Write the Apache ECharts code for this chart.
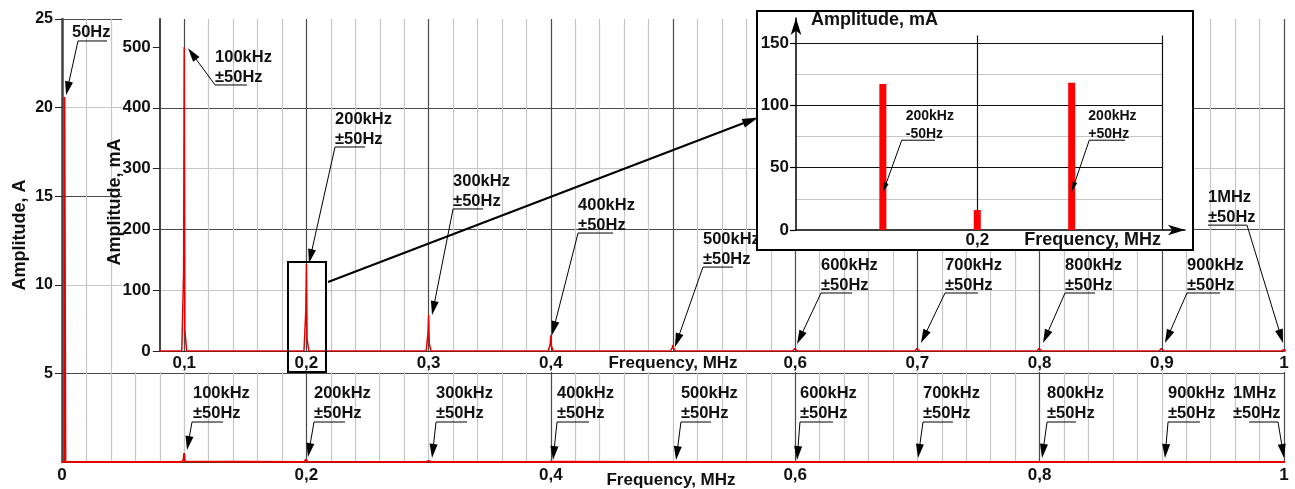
<!DOCTYPE html>
<html><head><meta charset="utf-8">
<script src="https://cdn.jsdelivr.net/npm/echarts@6/dist/echarts.min.js"></script>
<style>html,body{margin:0;padding:0;background:#fff}#c{width:1295px;height:489px}</style>
</head><body><div id="c"></div>
<script>
// ---------------- DATA ----------------
const harmonicsMHz     = [0.1, 0.2, 0.3, 0.4, 0.5, 0.6, 0.7, 0.8, 0.9, 1.0];
const harmonicPeak_mA  = [500, 143, 59, 26, 10, 5, 5, 5, 5, 2];
const harmonicSide_mA  = [130, 67, 30, 12, 6, 4, 4, 4, 4, 1];
const harmonicBase_mA  = [35, 20, 12, 8, 4, 3, 3, 3, 3, 1];
const mains50HzAmp_A   = 20.6;
const insetOffsetHz    = [-50, 0, 50];
const insetAmp_mA      = [117, 16, 118];

const outerXTickLabels = ['0', '0,2', '0,4', '0,6', '0,8', '1'];
const outerYTickLabels = ['5', '10', '15', '20', '25'];
const innerXTickLabels = ['0,1', '0,2', '0,3', '0,4', '{t|Frequency, MHz}', '0,6', '0,7', '0,8', '0,9', '1'];
const innerYTickLabels = ['0', '100', '200', '300', '400', '500'];
const insetYTickValues = [0, 50, 100, 150];
const insetXTickLabel  = '0,2';

// annotation anchors (data units of each panel)
const outerNotes = [
  {lines:['50Hz'], tx:0.0082, x0:0.0131, x1:0.0368, y:23.76, tip:[0.0033,20.7], from:'left'},
  {lines:['100kHz','±50Hz'], tx:0.1072, x0:0.1064, x1:0.1318, y:2.257, tip:[0.1023,0.677], from:'left'},
  {lines:['200kHz','±50Hz'], x0:0.2062, x1:0.2316, y:2.257, tip:[0.2013,0.28], from:'left'},
  {lines:['300kHz','±50Hz'], x0:0.3061, x1:0.3314, y:2.257, tip:[0.3028,0.23], from:'left'},
  {lines:['400kHz','±50Hz'], x0:0.4051, x1:0.4313, y:2.257, tip:[0.4018,0.11], from:'left'},
  {lines:['500kHz','±50Hz'], x0:0.5065, x1:0.5311, y:2.257, tip:[0.5025,0.11], from:'left'},
  {lines:['600kHz','±50Hz'], x0:0.6039, x1:0.6309, y:2.257, tip:[0.6015,0.11], from:'left'},
  {lines:['700kHz','±50Hz'], x0:0.7046, x1:0.7291, y:2.257, tip:[0.7005,0.23], from:'left'},
  {lines:['800kHz','±50Hz'], x0:0.8061, x1:0.8298, y:2.257, tip:[0.8020,0.23], from:'left'},
  {lines:['900kHz','±50Hz'], x0:0.9051, x1:0.9313, y:2.257, tip:[0.9026,0.23], from:'left'},
  {lines:['1MHz','±50Hz'], tx:0.9583, x0:0.9714, x1:0.9951, y:2.257, tip:[1.0,0.23], from:'right'}
];
const innerNotes = [
  {lines:['100kHz','±50Hz'], x0:0.1252, x1:0.1514, y:437.5, tip:[0.1031,498], from:'left'},
  {lines:['200kHz','±50Hz'], x0:0.2234, x1:0.2480, y:335.5, tip:[0.2021,144.7], from:'left'},
  {lines:['300kHz','±50Hz'], x0:0.3200, x1:0.3445, y:233.6, tip:[0.3028,59.2], from:'left'},
  {lines:['400kHz','±50Hz'], x0:0.4223, x1:0.4509, y:194, tip:[0.4010,26.3], from:'left'},
  {lines:['500kHz','±50Hz'], x0:0.5245, x1:0.5491, y:138, tip:[0.5016,6.6], from:'left'},
  {lines:['600kHz','±50Hz'], x0:0.6211, x1:0.6465, y:95.4, tip:[0.6015,11.5], from:'left'},
  {lines:['700kHz','±50Hz'], x0:0.7226, x1:0.7496, y:95.4, tip:[0.7029,13], from:'left'},
  {lines:['800kHz','±50Hz'], x0:0.8208, x1:0.8453, y:95.4, tip:[0.8028,13], from:'left'},
  {lines:['900kHz','±50Hz'], x0:0.9206, x1:0.9476, y:95.4, tip:[0.9026,13], from:'left'},
  {lines:['1MHz','±50Hz'], x0:0.9378, x1:0.9697, y:207, tip:[0.9992,13], from:'right'}
];
const insetNotes = [
  {lines:['200kHz','-50Hz'], tx:-37.9, x0:-40, x1:-22.4, y:72, tip:[-50,30], from:'left'},
  {lines:['200kHz','+50Hz'], tx:58.8, x0:59.3, x1:78.3, y:72, tip:[50,30.7], from:'left'}
];

// ---------------- CHART ----------------
const chart = echarts.init(document.getElementById('c'), null, {renderer:'canvas'});
const FONT = '"Liberation Sans", Arial, Helvetica, sans-serif';
const MAJ = '#4a4a4a', MIN = '#c6c6c6', RED = '#e60000';

function pickLabel(v, step, labels, offset) {
  const r = v / step, k = Math.round(r);
  if (Math.abs(r - k) > 1e-6) return '';
  const s = labels[k - offset];
  return s === undefined ? '' : s;
}

const outerData = [[0,0],[0.002,0],[0.002,mains50HzAmp_A],[0.0028,0]];
const innerData = [[0.08,0]];
harmonicsMHz.forEach((f,i) => {
  outerData.push([f-0.002,0],[f-0.0005,harmonicSide_mA[i]/1000],[f,harmonicPeak_mA[i]/1000],[f+0.0005,harmonicBase_mA[i]/1000],[f+0.002,0]);
  innerData.push([f-0.002,0],[f-0.0005,harmonicSide_mA[i]],[f,harmonicPeak_mA[i]],[f+0.0005,harmonicBase_mA[i]],[f+0.002,0]);
});
outerData.push([1,0]); innerData.push([1,0]);

const insetGridX = [-96, 98], insetGridTop = 156;
const insetLines = [];
[25,75,125].forEach(y => insetLines.push([{coord:[insetGridX[0],y], lineStyle:{color:MIN,width:1.2,type:'solid'}},{coord:[insetGridX[1],y]}]));
[50,100,150].forEach(y => insetLines.push([{coord:[insetGridX[0],y], lineStyle:{color:'#111',width:1.2,type:'solid'}},{coord:[insetGridX[1],y]}]));
[0, insetGridX[1]].forEach(x => insetLines.push([{coord:[x,0], lineStyle:{color:'#111',width:1.2,type:'solid'}},{coord:[x,insetGridTop]}]));

const lblStyle = {color:'#111', fontFamily:FONT, fontWeight:'bold'};
const outerXColors = [MAJ,MIN,MIN,MIN,MIN,MIN,MIN,MIN,MIN,MIN];
const innerXColors = [MIN,MAJ,MIN,MIN,MIN];

const option = {
  animation: false,
  backgroundColor: '#fff',
  grid: [
    {left:62, right:11, top:19, bottom:27},
    {left:159.8, right:11, top:19, bottom:138},
    {left:796, right:110, top:18, bottom:259}
  ],
  xAxis: [
    {gridIndex:0, type:'value', min:0, max:1, interval:0.02, z:0,
     axisLine:{show:true, lineStyle:{color:'#333', width:1}}, axisTick:{show:false},
     axisLabel:Object.assign({fontSize:17, margin:5, formatter:v => pickLabel(v,0.2,outerXTickLabels,0)}, lblStyle),
     splitLine:{show:true, lineStyle:{color:outerXColors, width:1.2}}},
    {gridIndex:1, type:'value', min:0.08, max:1, interval:0.02, z:4,
     axisLine:{show:true, lineStyle:{color:'#333', width:1}}, axisTick:{show:false},
     axisLabel:Object.assign({fontSize:17, margin:4, formatter:v => pickLabel(v,0.1,innerXTickLabels,1),
       rich:{t:{fontSize:17, fontWeight:'bold', fontFamily:FONT, color:'#111'}}}, lblStyle),
     splitLine:{show:true, lineStyle:{color:innerXColors, width:1.2}}},
    {gridIndex:2, type:'value', min:-96, max:110, z:8,
     axisLine:{show:true, onZero:false, symbol:['none','arrow'], symbolSize:[8,17], lineStyle:{color:'#000', width:1.5}},
     axisTick:{show:false},
     axisLabel:Object.assign({fontSize:17, margin:2, customValues:[0], formatter:() => insetXTickLabel}, lblStyle),
     splitLine:{show:false}}
  ],
  yAxis: [
    {gridIndex:0, type:'value', min:0, max:25, interval:2.5, z:0,
     axisLine:{show:true, onZero:false, lineStyle:{color:'#444', width:2.5}},
     axisTick:{show:true, customValues:[5,10,15,20,25], length:7, lineStyle:{color:'#222', width:1}},
     axisLabel:Object.assign({fontSize:16, margin:9, formatter:v => pickLabel(v,5,outerYTickLabels,1)}, lblStyle),
     splitLine:{show:true, lineStyle:{color:[MAJ,MIN], width:1.2}}},
    {gridIndex:1, type:'value', min:0, max:546, interval:50, z:4,
     axisLine:{show:true, onZero:false, lineStyle:{color:'#444', width:2}},
     axisTick:{show:true, customValues:[0,100,200,300,400,500], length:7, lineStyle:{color:'#222', width:1}},
     axisLabel:Object.assign({fontSize:17, margin:9, formatter:v => pickLabel(v,100,innerYTickLabels,0)}, lblStyle),
     splitLine:{show:true, showMaxLine:false, lineStyle:{color:[MAJ,MIN], width:1.2}}},
    {gridIndex:2, type:'value', min:0, max:170, z:8,
     axisLine:{show:true, onZero:false, symbol:['none','arrow'], symbolSize:[8,17], lineStyle:{color:'#000', width:1.5}},
     axisTick:{show:true, customValues:insetYTickValues, length:6, lineStyle:{color:'#000', width:1.2}},
     axisLabel:Object.assign({fontSize:17, margin:7, customValues:insetYTickValues, formatter:v => String(v)}, lblStyle),
     splitLine:{show:false}}
  ],
  series: [
    {type:'line', xAxisIndex:0, yAxisIndex:0, z:1, data:outerData, showSymbol:false, silent:true,
     lineStyle:{color:RED, width:2}, itemStyle:{color:RED}},
    {type:'line', xAxisIndex:1, yAxisIndex:1, z:5, data:innerData, showSymbol:false, silent:true,
     lineStyle:{color:RED, width:1.5}, itemStyle:{color:RED}},
    {type:'scatter', xAxisIndex:2, yAxisIndex:2, z:8, data:[[0,0]], symbolSize:0, silent:true,
     markLine:{z:8, silent:true, symbol:['none','none'], animation:false, label:{show:false},
       lineStyle:{type:'solid'}, data:insetLines}},
    {type:'bar', xAxisIndex:2, yAxisIndex:2, z:9, barWidth:7, silent:true,
     data:insetOffsetHz.map((x,i) => [x, insetAmp_mA[i]]), itemStyle:{color:'#ff0000'}}
  ]
};
chart.setOption(option);

// ---------------- overlay graphics ----------------
const els = [];
function P(g, v){ return chart.convertToPixel({gridIndex:g}, v); }
function arrow(p0, p1, L, W, z, lw){
  const dx=p1[0]-p0[0], dy=p1[1]-p0[1], len=Math.hypot(dx,dy), ux=dx/len, uy=dy/len;
  const bx=p1[0]-ux*L, by=p1[1]-uy*L, nx=-uy*W/2, ny=ux*W/2;
  els.push({type:'line', z, silent:true, shape:{x1:p0[0],y1:p0[1],x2:bx+ux*2,y2:by+uy*2}, style:{stroke:'#000', lineWidth:lw}});
  els.push({type:'polygon', z, silent:true, shape:{points:[[p1[0],p1[1]],[bx+nx,by+ny],[bx-nx,by-ny]]}, style:{fill:'#000'}});
}
function note(g, n, cfg){
  const u0=P(g,[n.x0,n.y]), u1=P(g,[n.x1,n.y]), t=P(g,[n.tx!==undefined?n.tx:n.x0, n.y]), tip=P(g,n.tip);
  els.push({type:'line', z:cfg.z, silent:true, shape:{x1:u0[0],y1:u0[1],x2:u1[0],y2:u1[1]}, style:{stroke:'#000', lineWidth:1}});
  arrow(n.from==='right'?u1:u0, tip, cfg.L, cfg.W, cfg.z, 1);
  els.push({type:'text', z:cfg.z, silent:true, x:t[0], y:t[1]+cfg.dy,
    style:{text:n.lines.join('\n'), fontSize:cfg.fs, fontWeight:'bold', fontFamily:FONT, fill:'#111',
      align:'left', verticalAlign:'bottom', lineHeight:cfg.lh}});
}
function txt(x, y, s, fs, opts){
  els.push(Object.assign({type:'text', silent:true, x, y, z:opts.z,
    style:{text:s, fontSize:fs, fontWeight:'bold', fontFamily:FONT, fill:'#111',
      align:opts.align||'center', verticalAlign:opts.va||'middle'}}, opts.rotation?{rotation:opts.rotation}:{}));
}

// outer chart annotations
outerNotes.forEach(n => note(0, n, {z:2, L:14, W:8, dy:1.5, fs:16.5, lh:20}));
txt(20, 235, 'Amplitude, A', 18, {z:2, rotation:Math.PI/2});
txt(671, 480, 'Frequency, MHz', 17, {z:2});

// white panel for the inner chart
els.push({type:'rect', z:3, silent:true, shape:{x:122, y:18, width:1295-122, height:372-18}, style:{fill:'#fff'}});
txt(115, 202, 'Amplitude, mA', 18, {z:4, rotation:Math.PI/2});
innerNotes.forEach(n => note(1, n, {z:6, L:14, W:8, dy:2, fs:16.5, lh:20}));

// box around the 200 kHz line
const b0 = P(1,[0.1849,146.4]), b1 = P(1,[0.2160,-34.5]);
els.push({type:'rect', z:6, silent:true, shape:{x:b0[0], y:b0[1], width:b1[0]-b0[0], height:b1[1]-b0[1]}, style:{fill:null, stroke:'#000', lineWidth:2}});

// inset panel
els.push({type:'rect', z:7, silent:true, shape:{x:757, y:11, width:1193-757, height:250-11}, style:{fill:'#fff', stroke:'#000', lineWidth:2}});
txt(811, 20, 'Amplitude, mA', 18, {z:8, align:'left'});
txt(1161, 240.5, 'Frequency, MHz', 18, {z:8, align:'right'});
insetNotes.forEach(n => note(2, n, {z:10, L:10, W:5, dy:3, fs:14, lh:18}));

// zoom arrow from the box to the inset
arrow(P(1,[0.2177,113.5]), P(2,[-116,90.2]), 16, 9, 10, 2);

chart.setOption({graphic:{elements:els}});
</script></body></html>
